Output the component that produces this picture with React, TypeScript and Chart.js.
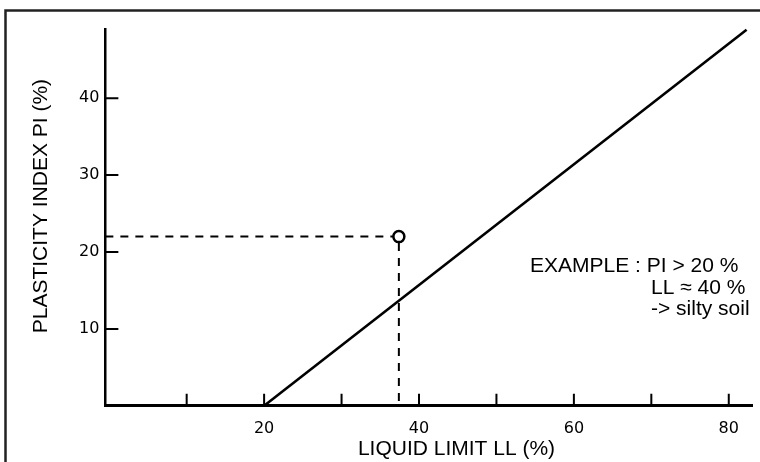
import React, { useEffect, useRef } from 'react';
import { Chart, registerables } from 'chart.js';

Chart.register(...registerables);

const FONT = '"Liberation Sans", Arial, Helvetica, sans-serif';
const TICK_FONT = '"DejaVu Sans", "Liberation Sans", Arial, sans-serif';

// A-line (LL, PI) end points
const aLineLL = [20, 82.3];
const aLinePI = [0, 48.9];

// example soil sample
const exampleLL = 37.4;
const examplePI = 22;

// axes
const xRange = [-0.5, 83];
const yRange = [0, 49];
const xTickValues = [10, 20, 30, 40, 50, 60, 70, 80];
const xLabelValues = [20, 40, 60, 80];
const yTickValues = [10, 20, 30, 40];

const xTitle = 'LIQUID LIMIT LL (%)';
const yTitle = 'PLASTICITY INDEX PI (%)';
const noteLines = ['EXAMPLE : PI > 20 %', 'LL \u2248 40 %', '-> silty soil'];

const decorPlugin = {
  id: 'decor',
  beforeDraw(chart: any) {
    const ctx = chart.ctx;
    ctx.save();
    ctx.strokeStyle = '#222';
    ctx.lineWidth = 2.5;
    ctx.beginPath();
    ctx.moveTo(5.5, chart.height + 5);
    ctx.lineTo(5.5, 10.5);
    ctx.lineTo(chart.width + 5, 10.5);
    ctx.stroke();
    ctx.restore();
  },
  afterDraw(chart: any) {
    const ctx = chart.ctx;
    const xs = chart.scales.x;
    const ys = chart.scales.y;
    const { left, right, top, bottom } = chart.chartArea;
    ctx.save();
    // inward tick marks
    ctx.strokeStyle = '#000';
    ctx.lineWidth = 2;
    ctx.beginPath();
    xTickValues.forEach((v) => {
      const px = xs.getPixelForValue(v);
      ctx.moveTo(px, bottom);
      ctx.lineTo(px, bottom - 12);
    });
    yTickValues.forEach((v) => {
      const py = ys.getPixelForValue(v);
      ctx.moveTo(left, py);
      ctx.lineTo(left + 13, py);
    });
    ctx.stroke();

    ctx.fillStyle = '#000';
    // x title
    ctx.font = `21px ${FONT}`;
    ctx.textAlign = 'center';
    ctx.textBaseline = 'alphabetic';
    ctx.fillText(xTitle, left + 0.543 * (right - left), bottom + 49);

    // y title
    ctx.save();
    ctx.translate(left - 64, top + 0.47 * (bottom - top));
    ctx.rotate(-Math.PI / 2);
    ctx.textBaseline = 'middle';
    ctx.fillText(yTitle, 0, 0);
    ctx.restore();

    // note
    ctx.textAlign = 'left';
    ctx.textBaseline = 'alphabetic';
    ctx.fillText(noteLines[0], right - 222, top + 243);
    ctx.fillText(noteLines[1], right - 101, top + 265);
    ctx.fillText(noteLines[2], right - 101, top + 286);
    ctx.restore();
  },
};

export default function App() {
  const ref = useRef<HTMLCanvasElement>(null);

  useEffect(() => {
    if (!ref.current) return;
    const chart = new Chart(ref.current, {
      type: 'scatter',
      data: {
        datasets: [
          {
            data: [{ x: exampleLL, y: examplePI }],
            pointRadius: 5.5,
            pointBorderWidth: 2.5,
            pointBackgroundColor: '#fff',
            pointBorderColor: '#000',
            showLine: false,
          },
          {
            data: [
              { x: xRange[0], y: examplePI },
              { x: exampleLL, y: examplePI },
              { x: exampleLL, y: 0 },
            ],
            showLine: true,
            borderColor: '#000',
            borderWidth: 2,
            borderDash: [8, 7],
            pointRadius: 0,
          },
          {
            data: aLineLL.map((ll, i) => ({ x: ll, y: aLinePI[i] })),
            showLine: true,
            borderColor: '#000',
            borderWidth: 2.6,
            pointRadius: 0,
            clip: false,
          },
        ],
      },
      options: {
        responsive: false,
        animation: false,
        layout: { padding: { left: 73, right: 8, top: 29, bottom: 11 } },
        plugins: { legend: { display: false }, tooltip: { enabled: false } },
        scales: {
          x: {
            type: 'linear',
            min: xRange[0],
            max: xRange[1],
            afterBuildTicks: (s: any) => {
              s.ticks = xTickValues.map((v) => ({ value: v }));
            },
            grid: { display: false, drawTicks: false },
            border: { display: true, color: '#000', width: 3 },
            ticks: {
              color: '#000',
              font: { family: TICK_FONT, size: 16 },
              padding: 13,
              maxRotation: 0,
              autoSkip: false,
              callback: (v: any) => (xLabelValues.includes(Number(v)) ? String(v) : ''),
            },
          },
          y: {
            type: 'linear',
            min: yRange[0],
            max: yRange[1],
            afterBuildTicks: (s: any) => {
              s.ticks = yTickValues.map((v) => ({ value: v }));
            },
            grid: { display: false, drawTicks: false },
            border: { display: true, color: '#000', width: 2.5 },
            ticks: {
              color: '#000',
              font: { family: TICK_FONT, size: 16 },
              padding: 6,
              autoSkip: false,
              callback: (v: any) => String(v),
            },
          },
        },
      },
      plugins: [decorPlugin],
    });
    return () => chart.destroy();
  }, []);

  return (
    <div style={{ position: 'absolute', left: 0, top: 0, width: 760, height: 462, background: '#fff' }}>
      <canvas ref={ref} width={760} height={462} style={{ display: 'block' }} />
    </div>
  );
}
